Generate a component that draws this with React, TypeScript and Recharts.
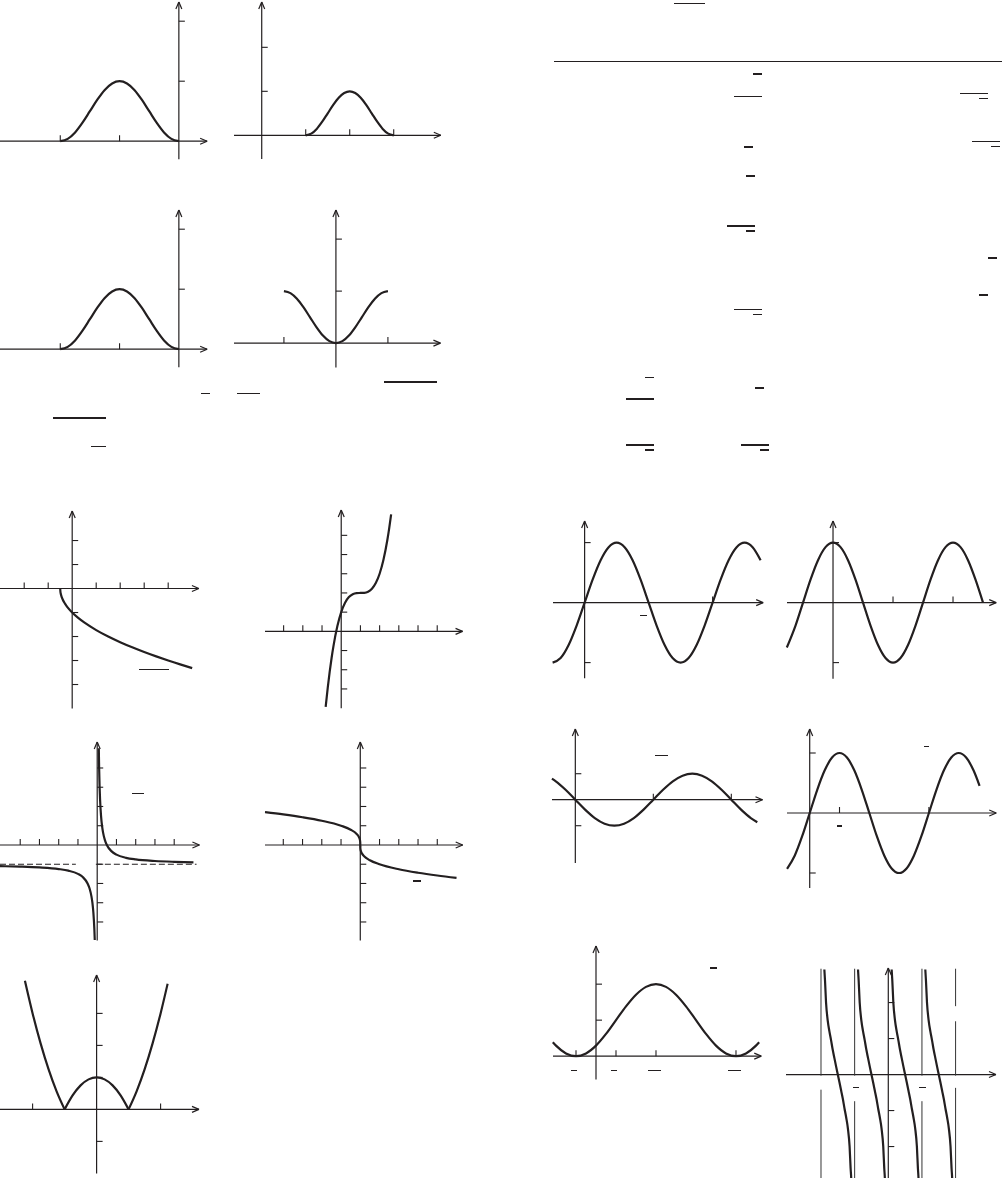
import React from "react";
import { LineChart, Line, XAxis, YAxis, ReferenceLine } from "recharts";

const INK = "#231f20";

type Pt = { x: number; y: number };
const pts = (xs: number[], ys: number[]): Pt[] => xs.map((x, i) => ({ x, y: ys[i] }));

// ---- curve values (x in axis units) ----
const bellX = [-2, -1.875, -1.75, -1.625, -1.5, -1.375, -1.25, -1.125, -1, -0.875, -0.75, -0.625, -0.5, -0.375, -0.25, -0.125, 0];
const bellY = [0, 0.038, 0.146, 0.309, 0.5, 0.691, 0.854, 0.962, 1, 0.962, 0.854, 0.691, 0.5, 0.309, 0.146, 0.038, 0];

const bumpX = [1, 1.125, 1.25, 1.375, 1.5, 1.625, 1.75, 1.875, 2, 2.125, 2.25, 2.375, 2.5, 2.625, 2.75, 2.875, 3];
const bumpY = [0, 0.038, 0.146, 0.309, 0.5, 0.691, 0.854, 0.962, 1, 0.962, 0.854, 0.691, 0.5, 0.309, 0.146, 0.038, 0];

const valleyX = [-1, -0.875, -0.75, -0.625, -0.5, -0.375, -0.25, -0.125, 0, 0.125, 0.25, 0.375, 0.5, 0.625, 0.75, 0.875, 1];
const valleyY = [1, 0.962, 0.854, 0.691, 0.5, 0.309, 0.146, 0.038, 0, 0.038, 0.146, 0.309, 0.5, 0.691, 0.854, 0.962, 1];

const rootX = [-0.5, -0.49, -0.48, -0.45, -0.4, -0.3, -0.2, 0, 0.25, 0.5, 1, 1.5, 2, 2.5, 3, 3.5, 4, 4.5, 5];
const rootY = [0, -0.141, -0.2, -0.316, -0.447, -0.632, -0.775, -1, -1.225, -1.414, -1.732, -2, -2.236, -2.449, -2.646, -2.828, -3, -3.162, -3.317];

const cubicX = [-0.81, -0.7, -0.6, -0.5, -0.4, -0.2, 0, 0.2, 0.4, 0.6, 0.8, 1, 1.2, 1.4, 1.6, 1.8, 2, 2.2, 2.4, 2.5, 2.6];
const cubicY = [-3.93, -2.913, -2.096, -1.375, -0.744, 0.272, 1, 1.488, 1.784, 1.936, 1.992, 2, 2.008, 2.064, 2.216, 2.512, 3, 3.728, 4.744, 5.375, 6.096];

const hypRX = [0.083, 0.1, 0.125, 0.15, 0.2, 0.25, 0.3, 0.4, 0.5, 0.75, 1, 1.5, 2, 3, 4, 5];
const hypRY = [5.02, 4, 3, 2.333, 1.5, 1, 0.667, 0.25, 0, -0.333, -0.5, -0.667, -0.75, -0.833, -0.875, -0.9];
const hypLX = [-5.05, -4, -3, -2, -1.5, -1, -0.75, -0.5, -0.4, -0.3, -0.25, -0.2, -0.15, -0.127];
const hypLY = [-1.099, -1.125, -1.167, -1.25, -1.333, -1.5, -1.667, -2, -2.25, -2.667, -3, -3.5, -4.333, -4.94];

const cbrtX = [-4.95, -4, -3, -2, -1, -0.5, -0.2, -0.1, -0.03, -0.01, -0.001, 0, 0.001, 0.01, 0.03, 0.1, 0.2, 0.5, 1, 2, 3, 4, 5];
const cbrtY = [1.704, 1.587, 1.442, 1.26, 1, 0.794, 0.585, 0.464, 0.311, 0.215, 0.1, 0, -0.1, -0.215, -0.311, -0.464, -0.585, -0.794, -1, -1.26, -1.442, -1.587, -1.71];

const waveAX = [-0.5, -0.375, -0.25, -0.125, 0, 0.125, 0.25, 0.375, 0.5, 0.625, 0.75, 0.875, 1, 1.125, 1.25, 1.375, 1.5, 1.625, 1.75, 1.875, 2, 2.125, 2.25, 2.375, 2.5, 2.625, 2.75];
const waveAY = [-1, -0.924, -0.707, -0.383, 0, 0.383, 0.707, 0.924, 1, 0.924, 0.707, 0.383, 0, -0.383, -0.707, -0.924, -1, -0.924, -0.707, -0.383, 0, 0.383, 0.707, 0.924, 1, 0.924, 0.707];

const waveBX = [-0.77, -0.625, -0.5, -0.375, -0.25, -0.125, 0, 0.125, 0.25, 0.375, 0.5, 0.625, 0.75, 0.875, 1, 1.125, 1.25, 1.375, 1.5, 1.625, 1.75, 1.875, 2, 2.125, 2.25, 2.375, 2.5];
const waveBY = [-0.749, -0.383, 0, 0.383, 0.707, 0.924, 1, 0.924, 0.707, 0.383, 0, -0.383, -0.707, -0.924, -1, -0.924, -0.707, -0.383, 0, 0.383, 0.707, 0.924, 1, 0.924, 0.707, 0.383, 0];

const waveCX = [-0.3, -0.25, -0.125, 0, 0.125, 0.25, 0.375, 0.5, 0.625, 0.75, 0.875, 1, 1.125, 1.25, 1.375, 1.5, 1.625, 1.75, 1.875, 2, 2.125, 2.25, 2.333];
const waveCY = [0.809, 0.707, 0.383, 0, -0.383, -0.707, -0.924, -1, -0.924, -0.707, -0.383, 0, 0.383, 0.707, 0.924, 1, 0.924, 0.707, 0.383, 0, -0.383, -0.707, -0.866];

const waveDX = [-0.38, -0.25, -0.125, 0, 0.125, 0.25, 0.375, 0.5, 0.625, 0.75, 0.875, 1, 1.125, 1.25, 1.375, 1.5, 1.625, 1.75, 1.875, 2, 2.125, 2.25, 2.375, 2.5, 2.625, 2.75, 2.85];
const waveDY = [-0.93, -0.707, -0.383, 0, 0.383, 0.707, 0.924, 1, 0.924, 0.707, 0.383, 0, -0.383, -0.707, -0.924, -1, -0.924, -0.707, -0.383, 0, 0.383, 0.707, 0.924, 1, 0.924, 0.707, 0.454];

const liftX = [-0.54, -0.5, -0.375, -0.25, -0.125, 0, 0.125, 0.25, 0.375, 0.5, 0.625, 0.75, 0.875, 1, 1.125, 1.25, 1.375, 1.5, 1.625, 1.75, 1.875, 2, 2.04];
const liftY = [0.387, 0.293, 0.076, 0, 0.076, 0.293, 0.617, 1, 1.383, 1.707, 1.924, 2, 1.924, 1.707, 1.383, 1, 0.617, 0.293, 0.076, 0, 0.076, 0.293, 0.387];

// one branch of the cotangent-like graph, position inside its period
const cotT = [0.1, 0.12, 0.15, 0.2, 0.25, 0.3, 0.35, 0.4, 0.45, 0.5, 0.55, 0.6, 0.65, 0.7, 0.75, 0.8, 0.85, 0.88, 0.9, 0.91];
const cotY = [2.92, 2.6, 2.0, 1.5, 1.2, 0.95, 0.68, 0.45, 0.22, 0, -0.22, -0.45, -0.68, -0.95, -1.2, -1.5, -2.0, -2.6, -2.92, -3.2];
const cotBranches = [-2, -1, 0, 1];

const absLX = [-2.24, -2, -1.75, -1.5, -1.25, -1];
const absLY = [4.02, 3, 2.063, 1.25, 0.563, 0];
const absMX = [-1, -0.75, -0.5, -0.25, 0, 0.25, 0.5, 0.75, 1];
const absMY = [0, 0.438, 0.75, 0.938, 1, 0.938, 0.75, 0.438, 0];
const absRX = [1, 1.25, 1.5, 1.75, 2, 2.22];
const absRY = [0, 0.563, 1.25, 2.063, 3, 3.928];

// ---- tick positions ----
const bellXTicks = [-2, -1];
const bellYTicks = [1, 2];
const bumpXTicks = [1, 2, 3];
const valleyXTicks = [-1, 1];
const rootXTicks = [-2, -1, 1, 2, 3, 4];
const rootYTicks = [2, 1, -1, -2, -3, -4];
const cubicXTicks = [-3, -2, -1, 1, 2, 3, 4, 5];
const cubicYTicks = [5, 4, 3, 2, 1, -1, -2, -3];
const fourTicks = [-4, -3, -2, -1, 1, 2, 3, 4];
const unitTicks = [1, -1];
const waveAXTicks = [2];
const waveBXTicks = [1, 2];
const waveDXTicks = [0.5, 2];
const liftXTicks = [-0.25, 0.25, 0.75, 1.75];
const cotYTicks = [2, 1, -1, -2];
const absXTicks = [-2, 2];
const absYTicks = [3, 2, 1, -1];

type Seg = [number, number, number, number];
type PlotSpec = {
  ox: number; oy: number; sx: number; sy: number;
  x0: number; x1: number; y0: number; y1: number;
  xTicks: number[]; yTicks: number[];
  series: Pt[][];
  dashed?: Seg[];
  thin?: Seg[];
};

const PLOTS: PlotSpec[] = [
  { ox: 178.7, oy: 141, sx: 59.3, sy: 60, x0: -3.05, x1: 0.477, y0: -0.3, y1: 2.32,
    xTicks: bellXTicks, yTicks: bellYTicks, series: [pts(bellX, bellY)] },
  { ox: 261.7, oy: 135.3, sx: 44, sy: 44, x0: -0.63, x1: 4.07, y0: -0.54, y1: 3.03,
    xTicks: bumpXTicks, yTicks: bellYTicks, series: [pts(bumpX, bumpY)] },
  { ox: 178.7, oy: 349.3, sx: 59.3, sy: 60, x0: -3.05, x1: 0.477, y0: -0.3, y1: 2.32,
    xTicks: bellXTicks, yTicks: bellYTicks, series: [pts(bellX, bellY)] },
  { ox: 336.3, oy: 343, sx: 52, sy: 52, x0: -1.96, x1: 2.01, y0: -0.47, y1: 2.56,
    xTicks: valleyXTicks, yTicks: bellYTicks, series: [pts(valleyX, valleyY)] },
  { ox: 72.3, oy: 588.3, sx: 24, sy: 24, x0: -3.05, x1: 5.28, y0: -5.0, y1: 3.23,
    xTicks: rootXTicks, yTicks: rootYTicks, series: [pts(rootX, rootY)] },
  { ox: 341.3, oy: 631.3, sx: 19.2, sy: 19.2, x0: -3.97, x1: 6.32, y0: -4.01, y1: 6.32,
    xTicks: cubicXTicks, yTicks: cubicYTicks, series: [pts(cubicX, cubicY)] },
  { ox: 96.7, oy: 845.3, sx: 19.25, sy: 19.25, x0: -5.05, x1: 5.31, y0: -4.96, y1: 5.35,
    xTicks: fourTicks, yTicks: fourTicks, series: [pts(hypRX, hypRY), pts(hypLX, hypLY)],
    dashed: [[-5.05, -1, -1.11, -1], [-0.07, -1, 5.16, -1]] },
  { ox: 360.3, oy: 845.3, sx: 19.25, sy: 19.25, x0: -4.95, x1: 5.32, y0: -4.96, y1: 5.35,
    xTicks: fourTicks, yTicks: fourTicks, series: [pts(cbrtX, cbrtY)] },
  { ox: 584.3, oy: 602.3, sx: 64, sy: 60, x0: -0.494, x1: 2.79, y0: -1.26, y1: 1.36,
    xTicks: waveAXTicks, yTicks: unitTicks, series: [pts(waveAX, waveAY)] },
  { ox: 833.3, oy: 602.3, sx: 60, sy: 60, x0: -0.767, x1: 2.72, y0: -1.27, y1: 1.36,
    xTicks: waveBXTicks, yTicks: unitTicks, series: [pts(waveBX, waveBY)] },
  { ox: 575, oy: 800, sx: 78, sy: 26, x0: -0.299, x1: 2.4, y0: -2.43, y1: 2.72,
    xTicks: waveBXTicks, yTicks: unitTicks, series: [pts(waveCX, waveCY)] },
  { ox: 810, oy: 813.3, sx: 59.6, sy: 60, x0: -0.381, x1: 3.13, y0: -1.25, y1: 1.4,
    xTicks: waveDXTicks, yTicks: unitTicks, series: [pts(waveDX, waveDY)] },
  { ox: 595.7, oy: 1056, sx: 80, sy: 36, x0: -0.5375, x1: 2.066, y0: -0.647, y1: 3.06,
    xTicks: liftXTicks, yTicks: bellYTicks, series: [pts(liftX, liftY)] },
  { ox: 888.3, oy: 1075, sx: 33.65, sy: 36, x0: -3.04, x1: 3.2, y0: -2.95, y1: 2.96,
    xTicks: [], yTicks: cotYTicks,
    series: cotBranches.map((b) => pts(cotT.map((t) => t + b), cotY)),
    thin: [
      [-2, 2.94, -2, -0.03], [-2, -0.42, -2, -2.95],
      [-1, 2.94, -1, -0.03], [-1, -0.74, -1, -2.95],
      [1, 2.94, 1, -0.03], [1, -0.74, 1, -2.95],
      [2, 2.94, 2, 1.9], [2, 1.48, 2, -0.03], [2, -0.37, 2, -2.95],
    ] },
  { ox: 96.7, oy: 1109.3, sx: 32, sy: 32, x0: -3.05, x1: 3.2, y0: -2.0, y1: 4.2,
    xTicks: absXTicks, yTicks: absYTicks,
    series: [pts(absLX, absLY), pts(absMX, absMY), pts(absRX, absRY)] },
];

// leftover fraction bars and the rule of the page: [x1, x2, y]
const BARS: [number, number, number][] = [
  [384, 436.7, 382], [200.7, 209.7, 393.3], [237, 259.7, 393.3], [53, 105.7, 418], [91, 105.7, 446.7],
  [673.7, 704.7, 3.3], [752.7, 762, 74], [734, 762, 96.3], [960, 987.7, 93.3], [978.7, 987.7, 98.3],
  [972, 1000, 141.3], [990.7, 1000, 146.3], [743.7, 752.7, 147], [746, 755, 176], [727, 755, 226],
  [746, 755, 231], [987.7, 996.7, 258], [978.7, 987.7, 295], [734, 762, 309.3], [752.7, 762, 314.3],
  [645, 654, 377.3], [754.7, 763.7, 388], [626, 654, 399], [626, 654, 445], [645, 654, 450],
  [741, 768.7, 445], [759.7, 768.7, 450],
  [139, 168.7, 669.3], [132.3, 143.7, 793.3], [413.3, 421, 881],
  [640, 647, 615.3], [655, 667.7, 755.3], [924.3, 929.3, 746.3], [836.7, 842, 826],
  [710, 716.7, 968], [570.7, 577, 1070.7], [611, 617.3, 1070.7], [648.3, 660.7, 1070.7], [728, 740.7, 1070.7],
  [852.7, 859.3, 1087.7], [919.3, 926, 1087.7],
];

function Plot({ p }: { p: PlotSpec }) {
  const padX = 8 / p.sx;
  const padY = 8 / p.sy;
  const xmin = p.x0 - padX;
  const xmax = p.x1 + padX;
  const ymin = p.y0 - padY;
  const ymax = p.y1 + padY;
  const width = (xmax - xmin) * p.sx;
  const height = (ymax - ymin) * p.sy;
  const left = p.ox + xmin * p.sx;
  const top = p.oy - ymax * p.sy;

  // axis lines, arrow heads and ticks, all as data-space segments
  const tl = 6;
  const ah = 7;
  const aw = 3;
  const axes: Seg[] = [
    [p.x0, 0, p.x1, 0],
    [0, p.y0, 0, p.y1],
    [p.x1 - ah / p.sx, aw / p.sy, p.x1, 0],
    [p.x1 - ah / p.sx, -aw / p.sy, p.x1, 0],
    [-aw / p.sx, p.y1 - ah / p.sy, 0, p.y1],
    [aw / p.sx, p.y1 - ah / p.sy, 0, p.y1],
  ];
  const ticks: Seg[] = [
    ...p.xTicks.map((t): Seg => [t, 0, t, tl / p.sy]),
    ...p.yTicks.map((t): Seg => [0, t, tl / p.sx, t]),
  ];

  const seg = (s: Seg, key: string, w: number, dash?: string, color = INK) => (
    <ReferenceLine
      key={key}
      segment={[{ x: s[0], y: s[1] }, { x: s[2], y: s[3] }]}
      stroke={color}
      strokeWidth={w}
      strokeDasharray={dash}
      ifOverflow="visible"
    />
  );

  return (
    <div style={{ position: "absolute", left, top, width, height }}>
      <LineChart width={width} height={height} margin={{ top: 0, right: 0, bottom: 0, left: 0 }}>
        <XAxis type="number" dataKey="x" domain={[xmin, xmax]} allowDataOverflow hide />
        <YAxis type="number" dataKey="y" domain={[ymin, ymax]} allowDataOverflow hide />
        {axes.map((s, i) => seg(s, `a${i}`, 1.2))}
        {ticks.map((s, i) => seg(s, `t${i}`, 1.1))}
        {(p.dashed || []).map((s, i) => seg(s, `d${i}`, 1.1, "6 3"))}
        {(p.thin || []).map((s, i) => seg(s, `v${i}`, 1, undefined, "#333"))}
        {p.series.map((d, i) => (
          <Line
            key={`s${i}`}
            data={d}
            dataKey="y"
            type="monotone"
            stroke={INK}
            strokeWidth={2.2}
            dot={false}
            activeDot={false}
            isAnimationActive={false}
          />
        ))}
      </LineChart>
    </div>
  );
}

export default function App() {
  return (
    <div
      style={{
        position: "absolute",
        left: 0,
        top: 0,
        width: 1002,
        height: 1178,
        overflow: "hidden",
        background: "#fff",
      }}
    >
      {PLOTS.map((p, i) => (
        <Plot key={i} p={p} />
      ))}
      {BARS.map(([a, b, y], i) => (
        <div
          key={`b${i}`}
          style={{ position: "absolute", left: a, top: y - 0.6, width: b - a, height: 1.2, background: INK }}
        />
      ))}
      <div style={{ position: "absolute", left: 554, top: 60.8, width: 448, height: 1.4, background: INK }} />
    </div>
  );
}
